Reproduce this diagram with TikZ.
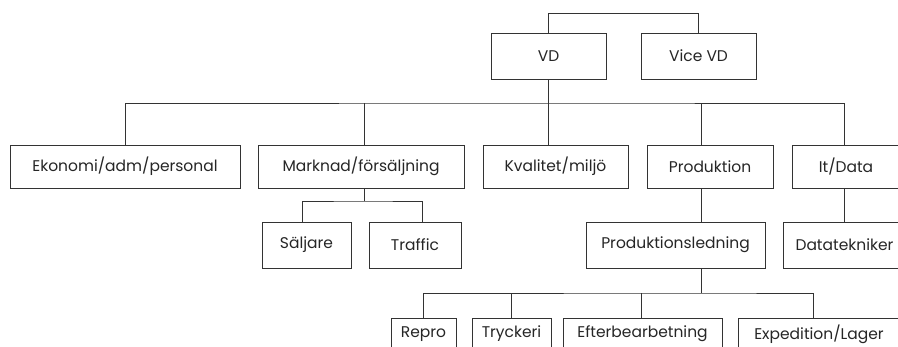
\documentclass[tikz,border=0pt]{standalone}
\usepackage{fontspec}
\setmainfont{Poppins}
\begin{document}
\begin{tikzpicture}[x=1pt,y=-1pt,
  box/.style={draw=black!80, line width=0.8pt, fill=white, inner sep=0pt, text=black!85,
    font=\fontsize{15.5}{18}\selectfont},
  conn/.style={draw=black!80, line width=0.8pt}]
\useasboundingbox (0,0) rectangle (898,347);
\clip (0,0) rectangle (898,347);
% row 1
\node[box, minimum width=115, minimum height=46] (vd) at (548.5,56) {VD};
\node[box, minimum width=115, minimum height=46] (vice) at (698.5,56) {Vice VD};
% row 2
\node[box, minimum width=230, minimum height=43] (eko) at (125,166.5) {Ekonomi/adm/personal};
\node[box, minimum width=206, minimum height=43] (mark) at (361,166.5) {Marknad/försäljning};
\node[box, minimum width=145, minimum height=43] (kval) at (555.5,166.5) {Kvalitet/miljö};
\node[box, minimum width=126, minimum height=43] (prod) at (710,166.5) {Produktion};
\node[box, minimum width=108, minimum height=43] (it) at (846,166.5) {It/Data};
% row 3
\node[box, minimum width=89, minimum height=46] (salj) at (306.5,245) {Säljare};
\node[box, minimum width=92, minimum height=46] (traf) at (415,245) {Traffic};
\node[box, minimum width=179, minimum height=46] (pled) at (675.5,245) {Produktionsledning};
\node[box, minimum width=123, minimum height=46] (dtek) at (844.5,245) {Datatekniker};
% row 4
\node[box, minimum width=65, minimum height=32] (repro) at (423.5,334) {Repro};
\node[box, minimum width=79, minimum height=32] (tryck) at (511.5,334) {Tryckeri};
\node[box, minimum width=159, minimum height=32] (efter) at (642.5,334) {Efterbearbetning};
\node[box, minimum width=162, minimum height=32] (exped) at (819,334) {Expedition/Lager};
% bus coordinates
\coordinate (top) at (548,13);
\coordinate (bus2) at (548,103);
\coordinate (bus3) at (364,201);
\coordinate (bus4) at (701,293);
% connectors
\draw[conn] (vd.north) -- (vd.north |- top) -| (vice.north);
\draw[conn] (vd.south) -- (vd.south |- kval.north);
\draw[conn] (eko.north) |- (bus2) -| ([xshift=-2pt]it.north);
\draw[conn] ([xshift=3pt]mark.north) -- ([xshift=3pt]mark.north |- bus2);
\draw[conn] ([xshift=-9pt]prod.north) -- ([xshift=-9pt]prod.north |- bus2);
\draw[conn] ([xshift=3pt]mark.south) -- (bus3);
\draw[conn] ([xshift=-4.5pt]salj.north) |- (bus3) -| ([xshift=7pt]traf.north);
\draw[conn] ([xshift=-9pt]prod.south) -- ([xshift=-9pt]prod.south |- pled.north);
\draw[conn] ([xshift=-2pt]it.south) -- ([xshift=-2pt]it.south |- dtek.north);
\draw[conn] ([xshift=25.5pt]pled.south) -- (bus4);
\draw[conn] (repro.north) |- (bus4) -| ([xshift=-6pt]exped.north);
\draw[conn] (tryck.north) -- (tryck.north |- bus4);
\draw[conn] ([xshift=-1.5pt]efter.north) -- ([xshift=-1.5pt]efter.north |- bus4);
\end{tikzpicture}
\end{document}
